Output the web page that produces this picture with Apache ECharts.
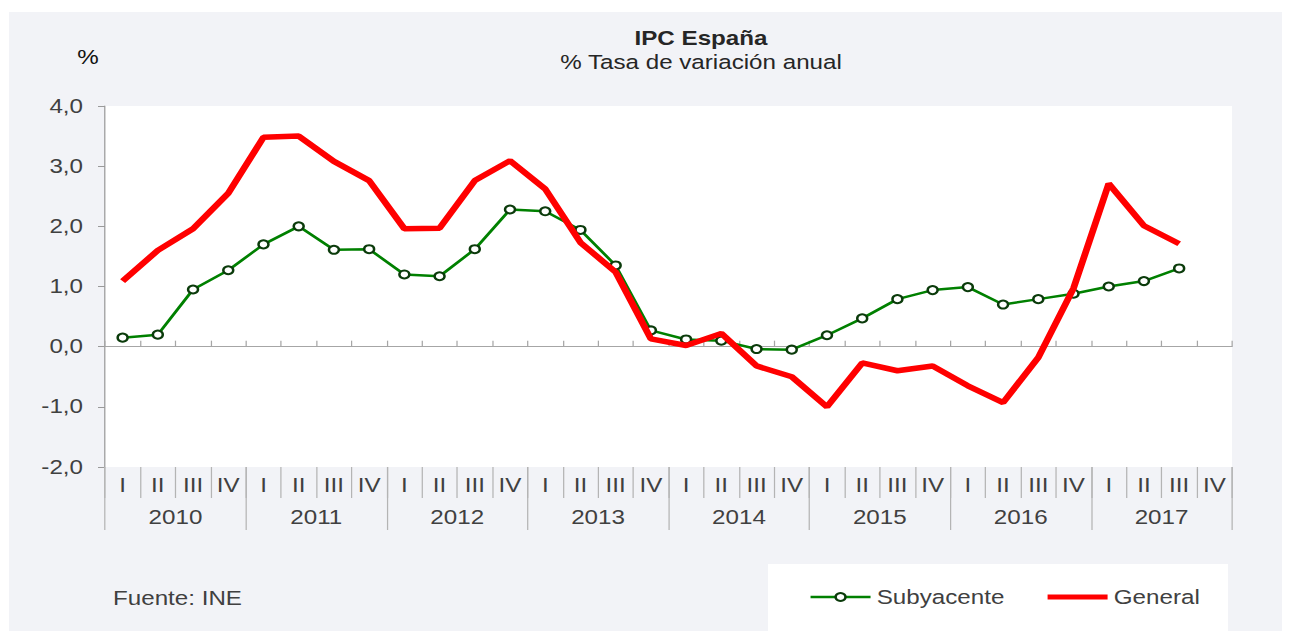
<!DOCTYPE html>
<html><head><meta charset="utf-8">
<script src="https://cdn.jsdelivr.net/npm/echarts@6/dist/echarts.min.js"></script>
<style>
html,body{margin:0;padding:0;background:#fff;width:1296px;height:631px;overflow:hidden;}
#panel{position:absolute;left:9px;top:12px;width:1273px;height:619px;background:#f2f3f7;}
#legbox{position:absolute;left:768px;top:564px;width:460px;height:67px;background:#fff;}
#chart{position:absolute;left:0;top:0;width:1045px;height:631px;transform:scaleX(1.2402);transform-origin:0 0;}
</style></head><body>
<div id="panel"></div><div id="legbox"></div><div id="chart"></div>
<script>
// ---- data ----
const years = ['2010','2011','2012','2013','2014','2015','2016','2017'];
const quarters = ['I','II','III','IV'];
const subyacente = [0.15, 0.20, 0.95, 1.27, 1.70, 2.00, 1.61, 1.62, 1.20, 1.17, 1.62, 2.28,
                    2.25, 1.94, 1.35, 0.27, 0.12, 0.10, -0.04, -0.05, 0.19, 0.47, 0.79, 0.94,
                    0.99, 0.70, 0.79, 0.88, 1.00, 1.09, 1.30, null];
const general = [1.09, 1.60, 1.96, 2.55, 3.48, 3.50, 3.08, 2.76, 1.96, 1.97, 2.76, 3.09,
                 2.62, 1.73, 1.24, 0.13, 0.02, 0.22, -0.32, -0.50, -1.00, -0.27, -0.40, -0.32,
                 -0.65, -0.93, -0.18, 0.97, 2.71, 2.01, 1.71, null];
const yMin = -2, yMax = 4, yStep = 1;
const seriesNames = ['Subyacente', 'General'];

// ---- layout helpers (the picture is horizontally stretched) ----
const S = 1.2402;
const W = 1045;
const hx = px => px / S;
const FONT = "'Liberation Sans', Arial, sans-serif";
const FS = 19.5;

const cats = [];
years.forEach(y => quarters.forEach(q => cats.push(y + ' ' + q)));

const chart = echarts.init(document.getElementById('chart'), null, {renderer: 'svg', width: W, height: 631});
chart.setOption({
  animation: false,
  backgroundColor: 'transparent',
  textStyle: {fontFamily: FONT},
  grid: {left: hx(105), right: W - hx(1232), top: 106, bottom: 631 - 467,
         show: true, backgroundColor: '#ffffff', borderWidth: 0},
  xAxis: [
    {type: 'category', data: cats, boundaryGap: true,
     axisLine: {show: true, onZero: true, lineStyle: {color: '#a6a6a6', width: 1}},
     axisTick: {show: true, inside: true, length: 6, interval: 0, lineStyle: {color: '#a6a6a6'}},
     axisLabel: {show: false}, splitLine: {show: false}},
    {type: 'category', data: cats, position: 'bottom', boundaryGap: true,
     axisLine: {show: false, onZero: false},
     axisTick: {show: true, length: 31, interval: 0, lineStyle: {color: '#b4b4b4'}},
     axisLabel: {interval: 0, margin: 8, fontSize: FS, color: '#404040', fontFamily: FONT,
                 formatter: (v, i) => quarters[i % 4]},
     splitLine: {show: false}},
    {type: 'category', data: years, position: 'bottom', boundaryGap: true,
     axisLine: {show: false, onZero: false},
     axisTick: {show: true, length: 63, interval: 0, lineStyle: {color: '#b4b4b4'}},
     axisLabel: {interval: 0, margin: 40, fontSize: FS, color: '#404040', fontFamily: FONT},
     splitLine: {show: false}}
  ],
  yAxis: {type: 'value', min: yMin, max: yMax, interval: yStep,
    axisLine: {show: true, onZero: false, lineStyle: {color: '#9a9a9a', width: 1}},
    axisTick: {show: true, length: hx(7), lineStyle: {color: '#9a9a9a'}},
    splitLine: {show: false},
    axisLabel: {margin: hx(22), fontSize: FS, color: '#404040', fontFamily: FONT,
                formatter: v => v.toFixed(1).replace('.', ',')}},
  legend: {left: hx(809), top: 587, padding: 0, itemWidth: hx(60), itemHeight: 10,
           itemGap: hx(40),
           data: [{name: seriesNames[0], lineStyle: {width: 2.5}},
                  {name: seriesNames[1], itemStyle: {opacity: 0}, lineStyle: {width: 5}}],
           textStyle: {fontSize: FS, color: '#404040', fontFamily: FONT}},
  graphic: [
    {type: 'text', x: hx(88), y: 57, silent: true,
     style: {text: '%', fontSize: FS, fill: '#111', fontFamily: FONT, align: 'center', verticalAlign: 'middle'}},
    {type: 'text', x: hx(701), y: 38, silent: true,
     style: {text: 'IPC España', fontSize: FS, fontWeight: 'bold', fill: '#262626', fontFamily: FONT, align: 'center', verticalAlign: 'middle'}},
    {type: 'text', x: hx(701), y: 62, silent: true,
     style: {text: '% Tasa de variación anual', fontSize: FS, fill: '#262626', fontFamily: FONT, align: 'center', verticalAlign: 'middle'}},
    {type: 'text', x: hx(113), y: 598, silent: true,
     style: {text: 'Fuente: INE', fontSize: FS, fill: '#404040', fontFamily: FONT, align: 'left', verticalAlign: 'middle'}}
  ],
  series: [
    {name: seriesNames[0], type: 'line', data: subyacente, xAxisIndex: 0,
     symbol: 'circle', symbolSize: 8, showSymbol: true, z: 2,
     lineStyle: {color: '#008000', width: 2.5},
     itemStyle: {color: '#ffffff', borderColor: '#0b3b0b', borderWidth: 2}},
    {name: seriesNames[1], type: 'line', data: general, xAxisIndex: 0,
     symbol: 'none', z: 3,
     lineStyle: {color: '#ff0000', width: 5.5},
     itemStyle: {color: '#ff0000'}}
  ]
});
</script>
</body></html>
